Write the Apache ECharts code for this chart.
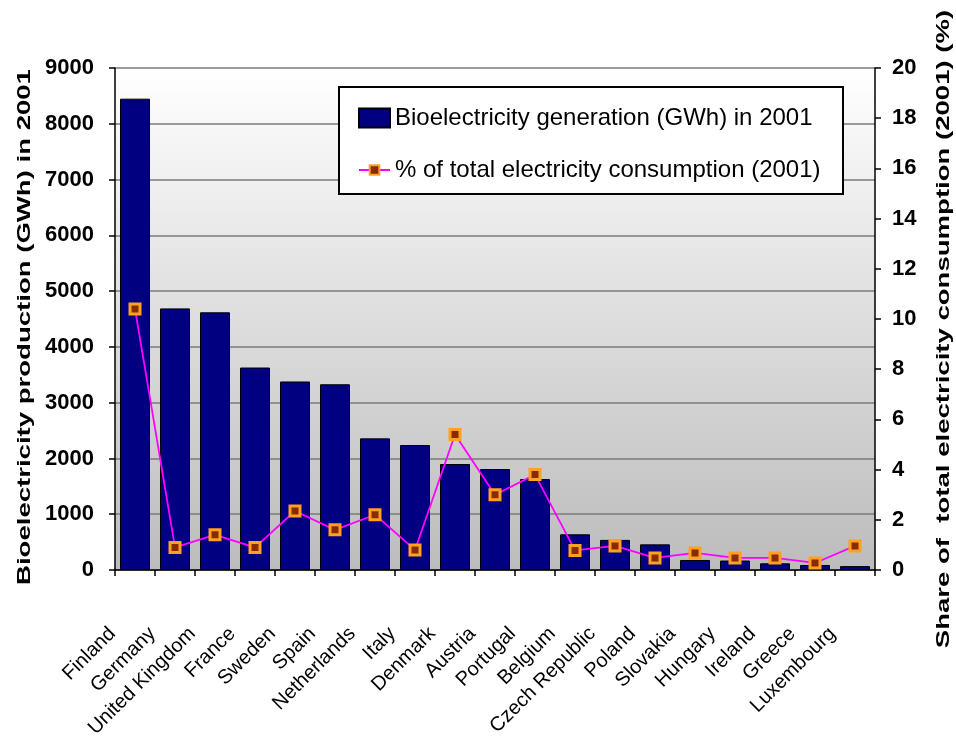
<!DOCTYPE html>
<html>
<head>
<meta charset="utf-8">
<script src="https://cdn.jsdelivr.net/npm/echarts@6/dist/echarts.min.js"></script>
<style>
  html, body { margin: 0; padding: 0; background: #ffffff; }
  #chart { width: 956px; height: 756px; }
</style>
</head>
<body>
<div id="chart"></div>
<script>
// EU countries, ranked by bioelectricity output in 2001
const countries = [
  'Finland', 'Germany', 'United Kingdom', 'France', 'Sweden', 'Spain',
  'Netherlands', 'Italy', 'Denmark', 'Austria', 'Portugal', 'Belgium',
  'Czech Republic', 'Poland', 'Slovakia', 'Hungary', 'Ireland', 'Greece',
  'Luxembourg'
];

// Bioelectricity generation (GWh) in 2001
const generationGWh = [
  8450, 4690, 4620, 3630, 3380, 3330,
  2360, 2240, 1900, 1810, 1630, 640,
  540, 460, 180, 170, 120, 90,
  70
];

// Share of total electricity consumption (%) in 2001
const sharePct = [
  10.4, 0.9, 1.4, 0.9, 2.35, 1.6,
  2.2, 0.8, 5.4, 3.0, 3.8, 0.78,
  0.96, 0.48, 0.68, 0.48, 0.48, 0.28,
  0.96
];

const barName = 'Bioelectricity generation (GWh) in 2001';
const lineName = '% of total electricity consumption (2001)';
const leftTitle = 'Bioelectricity production (GWh) in 2001';
const rightTitle = 'Share of  total electricity consumption (2001) (%)';

const FONT = 'Liberation Sans, Arial, sans-serif';

const chart = echarts.init(document.getElementById('chart'), null, { renderer: 'canvas' });

// Vertical axis titles, set in a tall narrow face (stretched along the reading direction)
function axisTitle(text, x, y) {
  return {
    type: 'text',
    x: x, y: y,
    rotation: Math.PI / 2,
    scaleX: 1.45,
    style: {
      text: text,
      font: 'bold 19px ' + FONT,
      fill: '#000000',
      align: 'center',
      verticalAlign: 'middle'
    }
  };
}

chart.setOption({
  animation: false,
  backgroundColor: '#ffffff',
  grid: {
    left: 115, right: 81, top: 68, bottom: 186,
    show: true,
    borderWidth: 0,
    backgroundColor: new echarts.graphic.LinearGradient(0, 0, 0, 1, [
      { offset: 0, color: '#ffffff' },
      { offset: 1, color: '#bcbcbc' }
    ])
  },
  graphic: [
    {
      type: 'rect',
      left: 338, top: 86,
      shape: { width: 504, height: 107 },
      style: { fill: '#ffffff', stroke: '#000000', lineWidth: 2 },
      z: 10
    },
    axisTitle(leftTitle, 25, 327),
    axisTitle(rightTitle, 944, 329)
  ],
  legend: [{
    data: [{ name: barName, icon: 'rect' }],
    orient: 'vertical',
    left: 358, top: 106,
    itemWidth: 31, itemHeight: 19,
    padding: 0,
    textStyle: { fontFamily: FONT, fontSize: 24, color: '#000000', padding: [0, 0, 0, 0] },
    z: 11
  }, {
    data: [lineName],
    orient: 'vertical',
    left: 358, top: 158,
    itemWidth: 31, itemHeight: 12,
    padding: 0,
    textStyle: { fontFamily: FONT, fontSize: 24, color: '#000000', padding: [0, 0, 0, 0] },
    z: 11
  }],
  xAxis: {
    type: 'category',
    data: countries,
    boundaryGap: true,
    axisLine: { lineStyle: { color: '#000000', width: 1.5 } },
    axisTick: { show: true, alignWithLabel: false, length: 6, lineStyle: { color: '#000000', width: 1.5 } },
    axisLabel: {
      interval: 0,
      rotate: 45,
      margin: 38,
      padding: [0, 32, 0, 0],
      fontFamily: FONT,
      fontSize: 20,
      color: '#000000'
    },
    splitLine: { show: false }
  },
  yAxis: [{
    type: 'value',
    min: 0, max: 9000, interval: 1000,
    position: 'left',
    axisLine: { show: true, lineStyle: { color: '#000000', width: 1.5 } },
    axisTick: { show: true, length: 6, lineStyle: { color: '#000000', width: 1.5 } },
    axisLabel: {
      fontFamily: FONT, fontSize: 22, fontWeight: 'bold', color: '#000000', margin: 21,
      formatter: v => String(v)
    },
    splitLine: { show: true, lineStyle: { color: '#7a7a7a', width: 1.5 } }
  }, {
    type: 'value',
    min: 0, max: 20, interval: 2,
    position: 'right',
    axisLine: { show: true, lineStyle: { color: '#000000', width: 1.5 } },
    axisTick: { show: true, length: 6, lineStyle: { color: '#000000', width: 1.5 } },
    axisLabel: {
      fontFamily: FONT, fontSize: 22, fontWeight: 'bold', color: '#000000', margin: 17,
      formatter: v => String(v)
    },
    splitLine: { show: false }
  }],
  series: [{
    name: barName,
    type: 'bar',
    yAxisIndex: 0,
    data: generationGWh,
    barCategoryGap: '25%',
    itemStyle: { color: '#000080', borderColor: '#000000', borderWidth: 1 }
  }, {
    name: lineName,
    type: 'line',
    yAxisIndex: 1,
    data: sharePct,
    symbol: 'rect',
    symbolSize: 10,
    lineStyle: { color: '#ff00ff', width: 1.8 },
    itemStyle: { color: '#8a2a00', borderColor: '#ffa020', borderWidth: 3 },
    z: 5
  }]
});
</script>
</body>
</html>
